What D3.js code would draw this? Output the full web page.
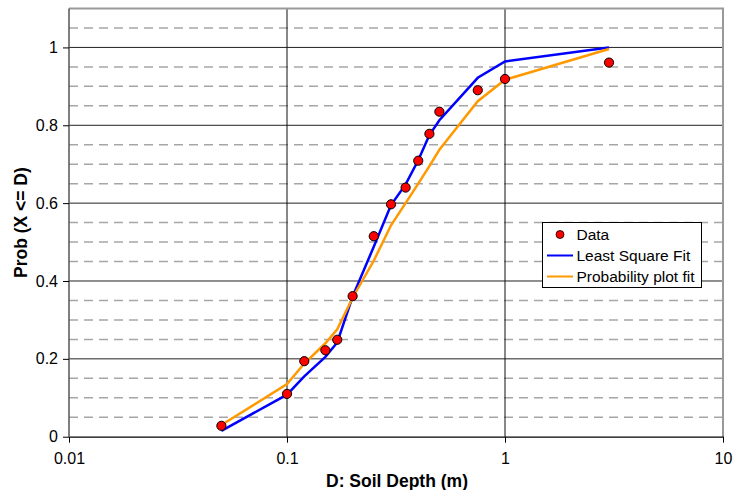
<!DOCTYPE html>
<html>
<head>
<meta charset="utf-8">
<script src="https://cdn.jsdelivr.net/npm/d3@7"></script>
<style>
  body { margin: 0; background: #fff; }
  svg { display: block; font-family: "Liberation Sans", Arial, sans-serif; }
</style>
</head>
<body>
<svg id="chart" width="733" height="490"></svg>
<script>
const depths = [0.05, 0.1, 0.12, 0.15, 0.17, 0.2, 0.25, 0.3, 0.35, 0.4, 0.45, 0.5, 0.75, 1, 3];
const dataProb = [0.028, 0.11, 0.194, 0.222, 0.249, 0.361, 0.515, 0.597, 0.64, 0.709, 0.778, 0.835, 0.89, 0.919, 0.961];
const leastSquareFit = [0.015, 0.108, 0.155, 0.205, 0.242, 0.36, 0.488, 0.595, 0.648, 0.71, 0.775, 0.813, 0.922, 0.964, 1.0];
const probPlotFit = [0.03, 0.135, 0.188, 0.24, 0.276, 0.357, 0.452, 0.543, 0.6, 0.65, 0.695, 0.737, 0.862, 0.917, 0.996];
const xTicks = [0.01, 0.1, 1, 10];
const xTickLabels = ["0.01", "0.1", "1", "10"];
const yTicks = [0, 0.2, 0.4, 0.6, 0.8, 1];
const yTickLabels = ["0", "0.2", "0.4", "0.6", "0.8", "1"];
const yMinor = [0.05, 0.1, 0.15, 0.25, 0.3, 0.35, 0.45, 0.5, 0.55, 0.65, 0.7, 0.75, 0.85, 0.9, 0.95, 1.05];
const seriesNames = ["Data", "Least Square Fit", "Probability plot fit"];

const svg = d3.select("#chart");
const L = 69, R = 723, T = 8.5, B = 436.7;
const x = d3.scaleLog().domain([0.01, 10]).range([L, R]);
const y = d3.scaleLinear().domain([0, 1.1]).range([B, T]);

// minor dashed gridlines
svg.append("g").selectAll("line").data(yMinor).join("line")
  .attr("x1", L).attr("x2", R)
  .attr("y1", d => y(d)).attr("y2", d => y(d))
  .attr("stroke", "#a6a6a6").attr("stroke-width", 1.5)
  .attr("stroke-dasharray", "9,6");

// major gridlines
svg.append("g").selectAll("line").data(yTicks.slice(1)).join("line")
  .attr("x1", L).attr("x2", R)
  .attr("y1", d => y(d)).attr("y2", d => y(d))
  .attr("stroke", "#222").attr("stroke-width", 1);
svg.append("g").selectAll("line").data([0.1, 1]).join("line")
  .attr("x1", d => x(d)).attr("x2", d => x(d))
  .attr("y1", T).attr("y2", B)
  .attr("stroke", "#111").attr("stroke-width", 1);

// plot border (top/right)
svg.append("path")
  .attr("d", `M${L},${T}H${R}V${B}`)
  .attr("fill", "none").attr("stroke", "#999").attr("stroke-width", 2);

// axes
const xAxis = d3.axisBottom(x).tickValues(xTicks)
  .tickFormat((d, i) => xTickLabels[i]).tickSize(6).tickSizeOuter(0).tickPadding(10);
const gx = svg.append("g").attr("transform", `translate(0,${B})`).call(xAxis);
gx.select(".domain").attr("stroke", "#000").attr("stroke-width", 1.3);
gx.selectAll(".tick line").attr("stroke", "#000");
gx.selectAll("text").attr("font-size", 16).attr("fill", "#000")
  .attr("font-family", "Liberation Sans, Arial, sans-serif");

const yAxis = d3.axisLeft(y).tickValues(yTicks)
  .tickFormat((d, i) => yTickLabels[i]).tickSize(6).tickSizeOuter(0).tickPadding(5);
const gy = svg.append("g").attr("transform", `translate(${L},0)`).call(yAxis);
gy.select(".domain").attr("stroke", "#555").attr("stroke-width", 1.5)
  .attr("d", `M0,${B}V${T}`);
gy.selectAll(".tick line").attr("stroke", "#000");
gy.selectAll("text").attr("font-size", 16).attr("fill", "#000")
  .attr("font-family", "Liberation Sans, Arial, sans-serif");

// axis titles
svg.append("text").attr("x", 397).attr("y", 487)
  .attr("text-anchor", "middle").attr("font-size", 17.5).attr("font-weight", "bold")
  .text("D: Soil Depth (m)");
svg.append("text").attr("transform", `translate(27,${(T + B) / 2}) rotate(-90)`)
  .attr("text-anchor", "middle").attr("font-size", 17.5).attr("font-weight", "bold")
  .text("Prob (X <= D)");

// lines
const line = d3.line().x((d, i) => x(depths[i])).y(d => y(d));
svg.append("path").datum(leastSquareFit).attr("d", line)
  .attr("fill", "none").attr("stroke", "#0000ff").attr("stroke-width", 2.5);
svg.append("path").datum(probPlotFit).attr("d", line)
  .attr("fill", "none").attr("stroke", "#ff9900").attr("stroke-width", 2.5);

// data points
svg.append("g").selectAll("circle").data(dataProb).join("circle")
  .attr("cx", (d, i) => x(depths[i])).attr("cy", d => y(d)).attr("r", 4.6)
  .attr("fill", "#ff0000").attr("stroke", "#000").attr("stroke-width", 1);

// legend
const lg = svg.append("g");
lg.append("rect").attr("x", 542.5).attr("y", 222.5).attr("width", 159).attr("height", 65)
  .attr("fill", "#fff").attr("stroke", "#000").attr("stroke-width", 1);
const ly = [234.5, 255.5, 276.5];
lg.append("circle").attr("cx", 560).attr("cy", ly[0]).attr("r", 4)
  .attr("fill", "#ff0000").attr("stroke", "#000").attr("stroke-width", 0.8);
lg.append("line").attr("x1", 547).attr("x2", 573).attr("y1", ly[1]).attr("y2", ly[1])
  .attr("stroke", "#0000ff").attr("stroke-width", 2);
lg.append("line").attr("x1", 547).attr("x2", 573).attr("y1", ly[2]).attr("y2", ly[2])
  .attr("stroke", "#ff9900").attr("stroke-width", 2);
lg.selectAll("text.lt").data(seriesNames).join("text").attr("class", "lt")
  .attr("x", 576.5).attr("y", (d, i) => ly[i] + 5.5)
  .attr("font-size", 15.5).attr("fill", "#000").text(d => d);
</script>
</body>
</html>
